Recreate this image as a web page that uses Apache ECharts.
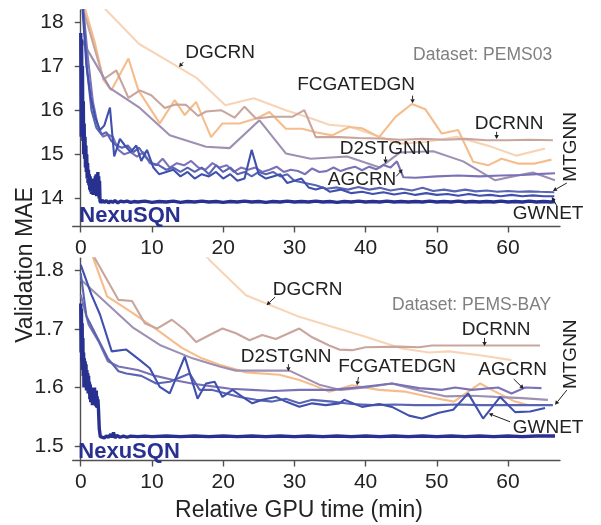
<!DOCTYPE html>
<html>
<head>
<meta charset="utf-8">
<script src="https://cdn.jsdelivr.net/npm/echarts@6/dist/echarts.min.js"></script>
<style>html,body{margin:0;padding:0;background:#fff}#c{width:601px;height:525px}</style>
</head>
<body>
<div id="c"></div>
<script>
// ---------------- DATA ----------------
const models = ['DGCRN','FCGATEDGN','DCRNN','D2STGNN','AGCRN','MTGNN','GWNET','NexuSQN'];
const xTicks = [0,10,20,30,40,50,60];
const pems03Ticks = [14,15,16,17,18];
const pemsbayTicks = [1.5,1.6,1.7,1.8];

// PEMS03 (top panel) : [minutes, validation MAE]
const pems03_DGCRN = [[3.4,18.3],[8.2,17.5],[12.0,17.14],[16.2,16.74],[20.3,16.11],[24.3,16.27],[28.8,16.0],[32.1,15.83],[34.9,15.67],[37.7,15.63],[41.8,15.41],[44.7,15.24],[48.4,15.28],[52.8,15.4],[57.5,15.18],[61.2,14.97],[65.2,15.13]];
const pems03_FCGATEDGN = [[0.6,18.3],[2.0,17.52],[3.2,16.68],[4.3,16.45],[6.7,17.17],[8.1,16.45],[11.1,15.7],[13.2,16.23],[14.6,15.89],[16.2,16.19],[18.3,15.39],[19.9,15.7],[22.3,15.7],[24.6,15.81],[26.5,15.96],[28.8,15.58],[31.1,15.58],[33.0,15.5],[35.3,15.43],[37.7,15.62],[39.5,15.59],[41.9,15.39],[44.2,15.85],[46.5,16.14],[48.4,16.02],[50.7,15.47],[53.0,15.55],[55.1,14.83],[57.2,14.75],[59.1,14.9],[61.4,14.79],[63.8,14.79],[66.1,14.88]];
const pems03_DCRNN = [[0.5,18.2],[3.2,16.7],[5.0,16.9],[6.7,16.28],[8.3,16.45],[9.9,16.34],[11.8,16.05],[13.3,16.13],[14.8,16.12],[16.5,15.87],[17.6,15.97],[19.7,16.0],[21.6,15.83],[23.0,16.08],[24.6,15.81],[26.9,15.85],[29.7,15.85],[31.4,16.0],[33.0,15.39],[36.3,15.39],[39.0,15.37],[42.0,15.36],[45.0,15.33],[48.0,15.35],[51.0,15.33],[54.0,15.35],[57.0,15.32],[60.0,15.32],[63.0,15.33],[66.3,15.32]];
const pems03_D2STGNN = [[0.1,17.6],[4.1,16.5],[8.3,16.05],[12.5,15.43],[17.6,15.17],[20.9,15.14],[25.1,15.77],[28.8,15.02],[32.3,14.9],[37.4,14.95],[42.0,14.7],[44.8,15.04],[49.5,15.07],[53.7,14.84],[58.2,14.41],[60.7,14.5],[63.5,14.59],[66.6,14.41]];
const pems03_AGCRN = [[0.3,18.4],[1.0,17.2],[1.7,16.2],[2.4,15.65],[3.1,15.4],[3.8,15.45],[4.5,15.4],[5.3,15.1],[6.1,15.0],[7.0,15.05],[7.9,14.95],[8.8,15.05],[9.7,14.8],[10.6,14.75],[11.5,14.9],[12.5,14.7],[13.5,14.8],[14.5,14.75],[15.5,14.85],[16.5,14.7],[17.5,14.65],[18.5,14.8],[19.5,14.7],[20.5,14.75],[21.5,14.6],[22.5,14.7],[23.5,14.65],[24.5,14.7],[25.5,14.6],[26.5,14.65],[27.5,14.72],[28.5,14.6],[29.5,14.65],[30.5,14.62],[31.5,14.55],[32.5,14.68],[33.5,14.6],[34.5,14.62],[35.5,14.7],[36.5,14.62],[37.5,14.68],[38.5,14.72],[39.5,14.64],[40.5,14.72],[41.5,14.66],[42.5,14.76],[43.5,14.7],[44.4,14.84],[45.3,14.48],[47.0,14.47],[50.0,14.5],[53.0,14.52],[56.0,14.5],[59.0,14.52],[62.0,14.53],[64.0,14.55],[66.6,14.57]];
const pems03_MTGNN = [[0.3,18.4],[0.9,16.9],[1.5,16.0],[2.2,15.6],[2.9,15.45],[3.6,15.5],[4.3,15.3],[5.0,15.2],[5.8,15.15],[6.6,15.2],[7.4,15.05],[8.2,15.15],[9.0,14.95],[10.0,14.8],[11.0,14.75],[12.0,14.65],[13.0,14.7],[14.0,14.6],[15.0,14.7],[16.0,14.6],[17.0,14.7],[18.0,14.55],[19.0,14.75],[20.0,14.6],[21.0,14.7],[22.0,14.55],[23.0,14.6],[24.0,14.5],[25.0,14.6],[26.0,14.55],[27.0,14.6],[28.0,14.5],[29.0,14.55],[30.0,14.4],[31.5,14.35],[33.0,14.3],[34.5,14.22],[36.0,14.25],[37.5,14.2],[39.0,14.26],[40.5,14.2],[42.0,14.24],[43.5,14.18],[45.0,14.22],[46.5,14.18],[48.0,14.24],[49.5,14.17],[51.0,14.2],[52.5,14.16],[54.0,14.2],[55.5,14.16],[57.0,14.18],[58.5,14.15],[60.0,14.17],[61.5,14.15],[63.0,14.16],[64.5,14.15],[66.5,14.14]];
const pems03_GWNET = [[0.2,18.4],[0.8,17.0],[1.4,16.3],[2.0,15.85],[2.7,15.55],[3.3,15.65],[4.1,16.06],[4.7,14.95],[5.5,15.35],[6.2,15.2],[7.0,15.05],[7.8,15.2],[8.5,14.85],[9.3,15.1],[10.2,14.7],[11.0,14.55],[12.0,14.6],[13.0,14.65],[14.0,14.5],[15.0,14.6],[16.0,14.45],[17.0,14.55],[18.0,14.5],[19.0,14.6],[20.0,14.45],[21.0,14.55],[22.0,14.4],[23.0,14.45],[24.0,15.1],[25.0,14.55],[26.0,14.45],[27.0,14.5],[28.0,14.55],[29.0,14.35],[30.0,14.4],[31.0,14.45],[32.0,14.25],[33.0,14.2],[34.0,14.25],[35.0,14.15],[36.5,14.2],[38.0,14.12],[39.5,14.15],[41.0,14.1],[42.5,14.14],[44.0,14.09],[45.5,14.13],[47.0,14.08],[48.5,14.12],[50.0,14.08],[51.5,14.1],[53.0,14.06],[54.5,14.1],[56.0,14.06],[57.5,14.08],[59.0,14.05],[60.5,14.08],[62.0,14.05],[63.5,14.07],[65.0,14.05],[66.5,14.05]];
const pems03_NexuSQN = [[0,17.75],[0.06,15.4],[0.12,17.6],[0.18,15.7],[0.24,17.0],[0.3,15.3],[0.36,16.2],[0.42,15.0],[0.48,15.7],[0.54,14.9],[0.6,15.4],[0.66,14.7],[0.72,15.2],[0.78,14.6],[0.84,15.0],[0.9,14.45],[0.96,14.8],[1.02,14.35],[1.08,14.65],[1.14,14.3],[1.2,14.55],[1.26,14.2],[1.32,14.5],[1.38,14.15],[1.44,14.45],[1.5,14.1],[1.56,14.4],[1.62,14.1],[1.68,14.35],[1.74,14.08],[1.8,14.3],[1.86,14.1],[1.92,14.45],[1.98,14.08],[2.04,14.5],[2.1,14.1],[2.16,14.55],[2.22,14.05],[2.28,14.5],[2.34,14.1],[2.4,14.6],[2.46,14.05],[2.52,14.5],[2.58,14.0],[2.64,14.4],[2.7,13.95],[2.8,13.9],[3.0,13.96],[3.3,13.91],[3.6,13.95],[3.9,13.9],[4.2,13.94],[4.5,13.91],[4.8,13.95],[5.2,13.9],[5.6,13.94],[6.0,13.92],[6.5,13.94],[7,13.91],[7.5,13.93],[8,13.92],[9,13.94],[10,13.91],[11,13.93],[12,13.92],[13,13.94],[14,13.91],[15,13.93],[16,13.92],[17,13.94],[18,13.92],[19,13.93],[20,13.91],[21,13.93],[22,13.92],[23,13.94],[24,13.92],[25,13.93],[26,13.91],[27,13.93],[28,13.92],[29,13.94],[30,13.92],[31,13.93],[32,13.92],[33,13.94],[34,13.92],[35,13.93],[36,13.91],[37,13.93],[38,13.92],[39,13.94],[40,13.92],[41,13.93],[42,13.92],[43,13.94],[44,13.92],[45,13.93],[46,13.92],[47,13.93],[48,13.92],[49,13.94],[50,13.92],[51,13.93],[52,13.92],[53,13.94],[54,13.92],[55,13.93],[56,13.92],[57,13.93],[58,13.92],[59,13.94],[60,13.92],[61,13.93],[62,13.92],[63,13.94],[64,13.92],[65,13.93],[66,13.92],[66.6,13.93]];

// PEMS-BAY (bottom panel)
const pemsbay_DGCRN = [[16.5,1.84],[18.1,1.818],[23.2,1.758],[30.7,1.721],[35.3,1.704],[40.0,1.687],[45.1,1.667],[48.9,1.66],[51.7,1.662],[56.3,1.655],[60.5,1.647]];
const pemsbay_FCGATEDGN = [[1.5,1.83],[3.7,1.756],[6.9,1.731],[10.7,1.699],[14.2,1.668],[17.0,1.65],[19.5,1.639],[23.2,1.626],[27.9,1.622],[30.7,1.613],[32.5,1.605],[34.9,1.593],[38.1,1.604],[41.9,1.596],[45.6,1.593],[49.3,1.583],[52.4,1.576],[56.1,1.607],[58.2,1.593],[61.0,1.576],[62.8,1.57]];
const pemsbay_DCRNN = [[1.6,1.83],[2.0,1.821],[5.3,1.75],[7.2,1.748],[9.0,1.71],[10.7,1.701],[12.8,1.716],[14.6,1.699],[16.2,1.678],[18.1,1.69],[19.9,1.701],[21.8,1.693],[23.7,1.681],[25.5,1.69],[27.4,1.683],[30.7,1.701],[32.5,1.686],[34.9,1.672],[36.3,1.665],[38.1,1.664],[40.0,1.669],[44.7,1.67],[47.5,1.669],[49.3,1.672],[54.0,1.672],[59.0,1.672],[64.5,1.672]];
const pemsbay_D2STGNN = [[0,1.785],[7.4,1.702],[11.1,1.673],[15.7,1.65],[19.5,1.636],[21.8,1.629],[29.3,1.629],[33.5,1.605],[36.5,1.596],[40.0,1.6],[43.7,1.607],[47.5,1.595],[51.2,1.585],[55.0,1.586],[58.2,1.584],[62.0,1.582],[65.6,1.579]];
const pemsbay_AGCRN = [[0,1.759],[1.1,1.708],[2.5,1.679],[3.8,1.645],[5.3,1.636],[8.0,1.63],[10.5,1.62],[13.0,1.613],[16.0,1.606],[18.5,1.602],[21.0,1.598],[24.0,1.596],[27.0,1.594],[30.7,1.596],[35.3,1.596],[39.5,1.601],[43.7,1.607],[47.5,1.599],[50.7,1.596],[52.6,1.6],[54.9,1.596],[58.6,1.6],[60.5,1.59],[62.4,1.6],[64.7,1.599]];
const pemsbay_MTGNN = [[0,1.796],[0.8,1.722],[3.8,1.65],[5.3,1.628],[6.4,1.624],[8.5,1.62],[10.6,1.607],[12.5,1.61],[15.3,1.624],[16.7,1.596],[18.5,1.596],[20.4,1.59],[22.3,1.584],[24.6,1.579],[26.9,1.576],[28.8,1.581],[30.7,1.573],[32.5,1.579],[35.3,1.576],[38.0,1.572],[41.0,1.57],[44.0,1.571],[47.0,1.57],[50.0,1.57],[53.0,1.571],[56.0,1.57],[59.0,1.57],[62.0,1.57],[64.5,1.57],[66.3,1.57]];
const pemsbay_GWNET = [[0,1.81],[1.5,1.759],[2.7,1.725],[4.35,1.662],[6.4,1.665],[8.3,1.647],[9.7,1.633],[11.1,1.601],[12.5,1.59],[14.6,1.653],[16.4,1.581],[17.6,1.607],[18.8,1.61],[19.9,1.584],[21.3,1.596],[22.7,1.584],[24.1,1.573],[25.5,1.579],[27.4,1.584],[28.8,1.576],[30.7,1.567],[32.5,1.573],[34.4,1.57],[36.3,1.573],[37.0,1.579],[39.5,1.567],[41.9,1.572],[43.7,1.567],[46.1,1.552],[47.9,1.547],[50.3,1.557],[52.3,1.562],[54.4,1.59],[56.5,1.547],[58.9,1.584],[61.0,1.558],[63.1,1.559],[65.2,1.565]];
const pemsbay_NexuSQN = [[0,1.744],[0.05,1.66],[0.1,1.735],[0.15,1.645],[0.2,1.71],[0.25,1.63],[0.3,1.685],[0.35,1.62],[0.4,1.66],[0.45,1.6],[0.5,1.65],[0.56,1.61],[0.62,1.645],[0.68,1.6],[0.74,1.64],[0.8,1.595],[0.86,1.63],[0.92,1.6],[0.98,1.625],[1.04,1.59],[1.1,1.62],[1.16,1.59],[1.22,1.61],[1.28,1.58],[1.34,1.605],[1.4,1.575],[1.46,1.6],[1.52,1.575],[1.58,1.6],[1.64,1.57],[1.7,1.6],[1.76,1.575],[1.82,1.595],[1.88,1.57],[1.94,1.6],[2.0,1.57],[2.06,1.59],[2.12,1.568],[2.18,1.595],[2.24,1.566],[2.3,1.585],[2.36,1.565],[2.42,1.58],[2.5,1.56],[2.6,1.53],[2.75,1.516],[3.0,1.518],[3.3,1.514],[3.6,1.517],[3.9,1.515],[4.2,1.52],[4.4,1.515],[4.6,1.523],[4.8,1.514],[5.1,1.518],[5.5,1.515],[6,1.517],[6.5,1.515],[7,1.517],[8,1.516],[9,1.517],[10,1.516],[12,1.517],[14,1.516],[16,1.517],[18,1.516],[20,1.517],[22,1.516],[24,1.517],[26,1.516],[28,1.517],[30,1.516],[32,1.517],[34,1.516],[36,1.517],[38,1.516],[40,1.517],[42,1.516],[44,1.517],[46,1.516],[48,1.517],[50,1.516],[52,1.517],[54,1.516],[56,1.517],[58,1.516],[60,1.517],[62,1.516],[64,1.517],[66.6,1.517]];

// ---------------- CHART ----------------
const colors = {DGCRN:'#f8d4b6', FCGATEDGN:'#f6bd8c', DCRNN:'#c9a59d', D2STGNN:'#9e90b2', AGCRN:'#7a72b6', MTGNN:'#5964b2', GWNET:'#3f50ae', NexuSQN:'#28318f'};
const panels = [
  {D:{DGCRN:pems03_DGCRN,FCGATEDGN:pems03_FCGATEDGN,DCRNN:pems03_DCRNN,D2STGNN:pems03_D2STGNN,AGCRN:pems03_AGCRN,MTGNN:pems03_MTGNN,GWNET:pems03_GWNET,NexuSQN:pems03_NexuSQN}, ticks:pems03Ticks},
  {D:{DGCRN:pemsbay_DGCRN,FCGATEDGN:pemsbay_FCGATEDGN,DCRNN:pemsbay_DCRNN,D2STGNN:pemsbay_D2STGNN,AGCRN:pemsbay_AGCRN,MTGNN:pemsbay_MTGNN,GWNET:pemsbay_GWNET,NexuSQN:pemsbay_NexuSQN}, ticks:pemsbayTicks}
];
const FONT = "'Liberation Sans', Arial, Helvetica, sans-serif";
const AX = '#505050', TXT = '#222';

const chart = echarts.init(document.getElementById('c'), null, {renderer:'canvas'});
const series = [];
panels.forEach((p, gi) => {
  models.forEach(m => {
    series.push({type:'line', name:m, xAxisIndex:gi, yAxisIndex:gi, data:p.D[m], symbol:'none', showSymbol:false,
      clip:true, silent:true, lineStyle:{color:colors[m], width: m==='NexuSQN'?3.4:2.1}, z: m==='NexuSQN'?5:2});
  });
});
function xAxisCfg(gi){
  return {type:'value', gridIndex:gi, min:-1.13, max:67.3,
    axisLine:{show:true, lineStyle:{color:AX, width:1.4}},
    axisTick:{show:true, length:6, lineStyle:{color:AX, width:1.4}, customValues:xTicks},
    axisLabel:{fontSize:21, fontFamily:FONT, color:TXT, margin:11, customValues:xTicks},
    splitLine:{show:false}};
}
function yAxisCfg(gi, min, max, ticks){
  return {type:'value', gridIndex:gi, min:min, max:max,
    axisLine:{show:true, lineStyle:{color:AX, width:1.4}},
    axisTick:{show:true, length:6, lineStyle:{color:AX, width:1.4}, customValues:ticks},
    axisLabel:{fontSize:21, fontFamily:FONT, color:TXT, margin:9, customValues:ticks},
    splitLine:{show:false}};
}
chart.setOption({
  animation:false,
  backgroundColor:'#fff',
  grid:[{left:72.7, top:10, width:487.3, height:216.5}, {left:72.7, top:258.3, width:487.3, height:202.2}],
  xAxis:[xAxisCfg(0), xAxisCfg(1)],
  yAxis:[yAxisCfg(0, 13.364, 18.271, pems03Ticks), yAxisCfg(1, 1.4752, 1.8212, pemsbayTicks)],
  series:series
});

// ---------------- ANNOTATIONS ----------------
// [text, textX, textY, arrowTailX, arrowTailY, arrowHeadX, arrowHeadY, kind]
const notes = [
  [ // PEMS03
    ['DGCRN', 19.56, 17.31, 14.4, 17.09, 13.8, 16.98],
    ['FCGATEDGN', 38.67, 16.57, 46.6, 16.33, 46.6, 16.16],
    ['DCRNN', 60.15, 15.70, 58.4, 15.51, 58.4, 15.35],
    ['D2STGNN', 42.74, 15.12, 42.8, 14.95, 42.8, 14.79],
    ['AGCRN', 39.5, 14.42, 44.3, 14.50, 45.2, 14.66],
    ['MTGNN', 68.8, 15.17, 68.26, 14.35, 66.3, 14.17, 'v'],
    ['GWNET', 65.63, 13.65, 66.9, 13.82, 66.15, 14.03],
    ['Dataset: PEMS03', 56.43, 17.24, null, null, null, null, 'ds'],
    ['NexuSQN', 6.92, 13.60, null, null, null, null, 'nx']
  ],
  [ // PEMS-BAY
    ['DGCRN', 31.85, 1.7678, 27.3, 1.755, 26.1, 1.741],
    ['D2STGNN', 28.83, 1.6531, 29.16, 1.640, 29.16, 1.628],
    ['FCGATEDGN', 44.42, 1.636, 39.0, 1.618, 38.8, 1.604],
    ['DCRNN', 58.33, 1.699, 56.7, 1.685, 56.7, 1.671],
    ['AGCRN', 60.65, 1.631, 60.8, 1.6146, 62.2, 1.598],
    ['MTGNN', 68.8, 1.657, 68.26, 1.5957, 66.6, 1.5705, 'v'],
    ['GWNET', 65.63, 1.5315, 60.3, 1.5414, 57.3, 1.5555],
    ['Dataset: PEMS-BAY', 54.89, 1.7413, null, null, null, null, 'ds'],
    ['NexuSQN', 6.78, 1.4892, null, null, null, null, 'nx']
  ]
];
const graphics = [];
notes.forEach((list, gi) => {
  const conv = (x, y) => chart.convertToPixel({xAxisIndex:gi, yAxisIndex:gi}, [x, y]);
  list.forEach(n => {
    const [t, tx, ty, ax, ay, hx, hy, kind] = n;
    const p = conv(tx, ty);
    let fill = TXT, fs = 19, fw = 'normal';
    if (kind === 'ds') { fill = '#808080'; fs = 17.5; }
    if (kind === 'nx') { fill = colors.NexuSQN; fs = 22; fw = 'bold'; }
    graphics.push({type:'text', x:p[0], y:p[1], rotation: kind==='v' ? Math.PI/2 : 0, z:100,
      style:{text:t, fill:fill, fontSize:fs, fontWeight:fw, fontFamily:FONT,
        align:'center', verticalAlign:'middle', textAlign:'center', textVerticalAlign:'middle'}});
    if (ax !== null) {
      const a = conv(ax, ay), h = conv(hx, hy);
      const dx = h[0]-a[0], dy = h[1]-a[1], L = Math.hypot(dx, dy), ux = dx/L, uy = dy/L;
      const hl = 4, hw = 2.2;
      const bx = h[0]-ux*hl, by = h[1]-uy*hl;
      graphics.push({type:'polyline', z:100, shape:{points:[a,[bx,by]]}, style:{stroke:'#222', lineWidth:1, fill:null}});
      graphics.push({type:'polygon', z:100, shape:{points:[h,[bx-uy*hw, by+ux*hw],[bx+uy*hw, by-ux*hw]]}, style:{fill:'#222'}});
    }
  });
});
// axis titles
graphics.push({type:'text', x:299, y:511, z:100, style:{text:'Relative GPU time (min)', fill:TXT, fontSize:23, fontFamily:FONT, align:'center', verticalAlign:'middle', textAlign:'center', textVerticalAlign:'middle'}});
graphics.push({type:'text', x:26, y:265, rotation:Math.PI/2, z:100, style:{text:'Validation MAE', fill:TXT, fontSize:23, fontFamily:FONT, align:'center', verticalAlign:'middle', textAlign:'center', textVerticalAlign:'middle'}});
chart.setOption({graphic:{elements:graphics}});
</script>
</body>
</html>
